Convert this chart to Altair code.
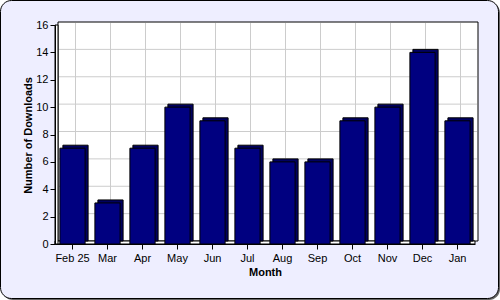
import altair as alt
import pandas as pd

months = ["Feb 25", "Mar", "Apr", "May", "Jun", "Jul", "Aug", "Sep", "Oct", "Nov", "Dec", "Jan"]
downloads = [7, 3, 7, 10, 9, 7, 6, 6, 9, 10, 14, 9]
y_ticks = [0, 2, 4, 6, 8, 10, 12, 14, 16]
grid_vals = [2, 4, 6, 8, 10, 12, 14]

df = pd.DataFrame({"month": months, "downloads": downloads})
one = pd.DataFrame({"k": [0]})
grid_df = pd.DataFrame({"v": grid_vals})

W, H = 420, 219
D = 3  # 3D depth
FONT = "Liberation Sans"

xscale = alt.Scale(domain=months, paddingInner=0.28, paddingOuter=0.14)
yscale = alt.Scale(domain=[0, 16], nice=False)

xaxis = alt.Axis(title="Month", labelAngle=0, tickSize=5, labelPadding=3,
                 domainColor="black", tickColor="black", labelColor="black",
                 labelFont=FONT, labelFontSize=11, titleFont=FONT, titleFontSize=11,
                 titleFontWeight="bold", titleColor="black", titleY=28,
                 titleBaseline="middle", grid=False, zindex=1)
yaxis = alt.Axis(title="Number of Downloads", values=y_ticks, tickSize=5, labelPadding=2,
                 domainColor="black", tickColor="black", labelColor="black",
                 labelFont=FONT, labelFontSize=11, titleFont=FONT, titleFontSize=11,
                 titleFontWeight="bold", titleColor="black", titleX=-27,
                 titleY=110, titleAlign="center", titleBaseline="middle",
                 grid=False, zindex=1)

base1 = alt.Chart(one)

shadow = base1.mark_rect(fill="#666666", cornerRadius=11).encode(
    x=alt.value(-53), x2=alt.value(445), y=alt.value(-23), y2=alt.value(275))
bg = base1.mark_rect(fill="#EEEEFF", stroke="black", strokeWidth=1, cornerRadius=11).encode(
    x=alt.value(-54.5), x2=alt.value(443.5), y=alt.value(-24.5), y2=alt.value(273.5))
back_wall = base1.mark_rect(fill="white", stroke="black", strokeWidth=1).encode(
    x=alt.value(D), x2=alt.value(W + D), y=alt.value(-D), y2=alt.value(H - D))
floor = base1.mark_rect(fill="white", stroke="black", strokeWidth=1).encode(
    x=alt.value(0), x2=alt.value(W), y=alt.value(H - D), y2=alt.value(H))
left_wall = base1.mark_rect(fill="white", stroke="black", strokeWidth=1).encode(
    x=alt.value(0), x2=alt.value(D), y=alt.value(0), y2=alt.value(H))

hgrid = alt.Chart(grid_df).mark_rule(color="#CCCCCC", strokeWidth=1, yOffset=-D).encode(
    y=alt.Y("v:Q", scale=yscale, axis=yaxis),
    x=alt.value(D + 1), x2=alt.value(W + D - 1))
vgrid = alt.Chart(df).mark_rule(color="#CCCCCC", strokeWidth=1, xOffset=D).encode(
    x=alt.X("month:N", scale=xscale, sort=months, axis=xaxis),
    y=alt.value(-D + 1), y2=alt.value(H - D - 1))

bar_back = alt.Chart(df).mark_bar(fill="#000060", stroke="black", strokeWidth=1,
                                  xOffset=D, yOffset=-D).encode(
    x=alt.X("month:N", scale=xscale, sort=months, axis=xaxis),
    y=alt.Y("downloads:Q", scale=yscale, axis=yaxis))

bar_front = alt.Chart(df).mark_bar(fill="#000080", stroke="black", strokeWidth=1).encode(
    x=alt.X("month:N", scale=xscale, sort=months, axis=xaxis),
    y=alt.Y("downloads:Q", scale=yscale, axis=yaxis))

chart = alt.layer(shadow, bg, back_wall, floor, left_wall, hgrid, vgrid, bar_back, bar_front).properties(
    width=W, height=H,
    autosize=alt.AutoSizeParams(type="none"),
    padding={"left": 55, "top": 25, "right": 25, "bottom": 56},
).resolve_axis(x="shared", y="shared").configure(background="white").configure_view(stroke=None)

chart.save("out.html", embed_options={"renderer": "svg", "actions": False})
